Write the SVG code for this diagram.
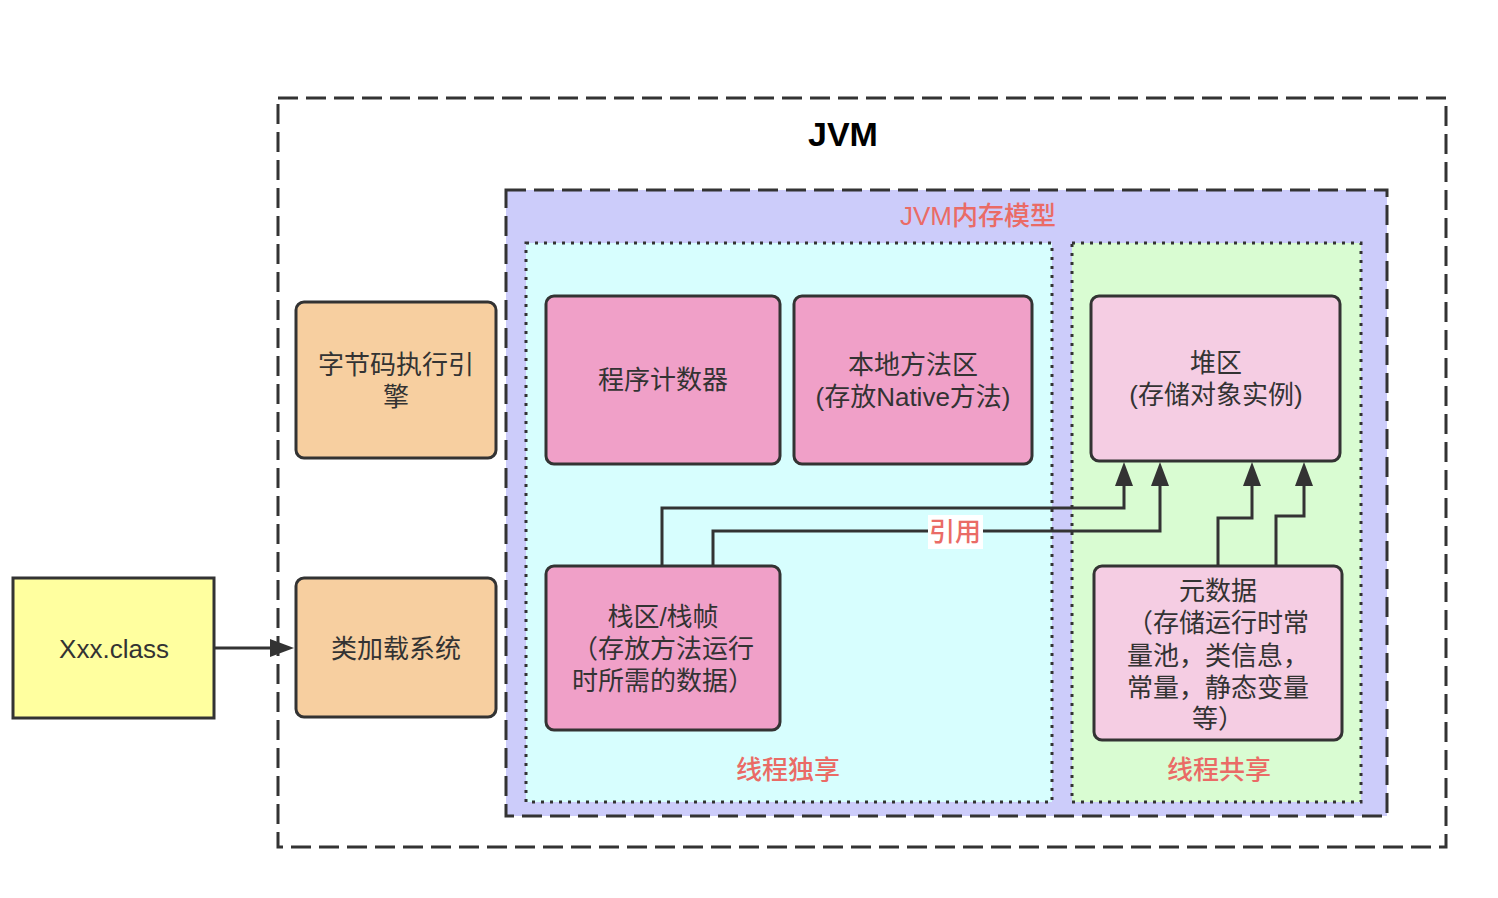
<svg xmlns="http://www.w3.org/2000/svg" width="1498" height="898" viewBox="0 0 1498 898">
<style>
text{font-family:"Liberation Sans","Noto Sans CJK SC",sans-serif;font-size:26px;fill:#333333;text-anchor:middle;dominant-baseline:central}
.red{fill:#ea6b66;font-weight:500}
.node{stroke:#333333;stroke-width:3}
.dash{stroke:#333333;stroke-width:3;stroke-dasharray:20 8}
.dot{stroke:#333333;stroke-width:3;stroke-dasharray:3 6}
.edge{fill:none;stroke:#333333;stroke-width:3}
</style>
<defs>
<marker id="arr" markerUnits="userSpaceOnUse" markerWidth="26" markerHeight="20" refX="14" refY="9" orient="auto" viewBox="0 0 26 20">
<path d="M0,0 L24,9 L0,18 z" fill="#333333"/>
</marker>
</defs>
<rect width="1498" height="898" fill="#ffffff"/>
<g id="jvm">
<rect x="278" y="98" width="1168" height="749" fill="none" class="dash"/>
<text x="843" y="134" style="font-size:34px;font-weight:bold;fill:#000">JVM</text>
</g>
<g id="memory-model">
<rect x="506" y="190" width="881" height="626" fill="#ccccfa" class="dash"/>
<text class="red" x="978" y="216">JVM内存模型</text>
</g>
<g id="thread-private">
<rect x="526" y="243" width="526" height="559" fill="#d7fefe" class="dot"/>
<text class="red" x="788" y="770">线程独享</text>
</g>
<g id="thread-shared">
<rect x="1072" y="243" width="289" height="559" fill="#d9fcd2" class="dot"/>
<text class="red" x="1219" y="770">线程共享</text>
</g>
<g id="connectors">
<path class="edge" d="M215,648 H284" marker-end="url(#arr)"/>
<path class="edge" d="M662,566 V508 H1124 V472" marker-end="url(#arr)"/>
<path class="edge" d="M713,566 V531 H1160 V472" marker-end="url(#arr)"/>
<path class="edge" d="M1218,566 V518 H1252 V472" marker-end="url(#arr)"/>
<path class="edge" d="M1276,566 V516 H1304 V472" marker-end="url(#arr)"/>
<rect x="928" y="515" width="55" height="34" fill="#ffffff"/>
<text class="red" x="955" y="532">引用</text>
</g>
<g id="xxx-class">
<rect x="13" y="578" width="201" height="140" fill="#ffff9f" class="node"/>
<text x="114" y="649">Xxx.class</text>
</g>
<g id="bytecode-engine">
<rect x="296" y="302" width="200" height="156" rx="8" fill="#f7cfa0" class="node"/>
<text><tspan x="396" y="365">字节码执行引</tspan><tspan x="396" y="397">擎</tspan></text>
</g>
<g id="class-loader">
<rect x="296" y="578" width="200" height="139" rx="8" fill="#f7cfa0" class="node"/>
<text x="396" y="649">类加载系统</text>
</g>
<g id="pc-register">
<rect x="546" y="296" width="234" height="168" rx="8" fill="#f0a0c8" class="node"/>
<text x="663" y="380">程序计数器</text>
</g>
<g id="native-method">
<rect x="794" y="296" width="238" height="168" rx="8" fill="#f0a0c8" class="node"/>
<text><tspan x="913" y="365">本地方法区</tspan><tspan x="913" y="397">(存放Native方法)</tspan></text>
</g>
<g id="heap">
<rect x="1091" y="296" width="249" height="165" rx="8" fill="#f5cde3" class="node"/>
<text><tspan x="1216" y="363">堆区</tspan><tspan x="1216" y="395">(存储对象实例)</tspan></text>
</g>
<g id="stack">
<rect x="546" y="566" width="234" height="164" rx="8" fill="#f0a0c8" class="node"/>
<text><tspan x="663" y="617">栈区/栈帧</tspan><tspan x="663" y="649">（存放方法运行</tspan><tspan x="663" y="681">时所需的数据）</tspan></text>
</g>
<g id="metadata">
<rect x="1094" y="566" width="248" height="174" rx="8" fill="#f5cde3" class="node"/>
<text><tspan x="1218" y="591">元数据</tspan><tspan x="1218" y="623">（存储运行时常</tspan><tspan x="1218" y="656">量池，类信息，</tspan><tspan x="1218" y="688">常量，静态变量</tspan><tspan x="1218" y="719">等）</tspan></text>
</g>
</svg>
